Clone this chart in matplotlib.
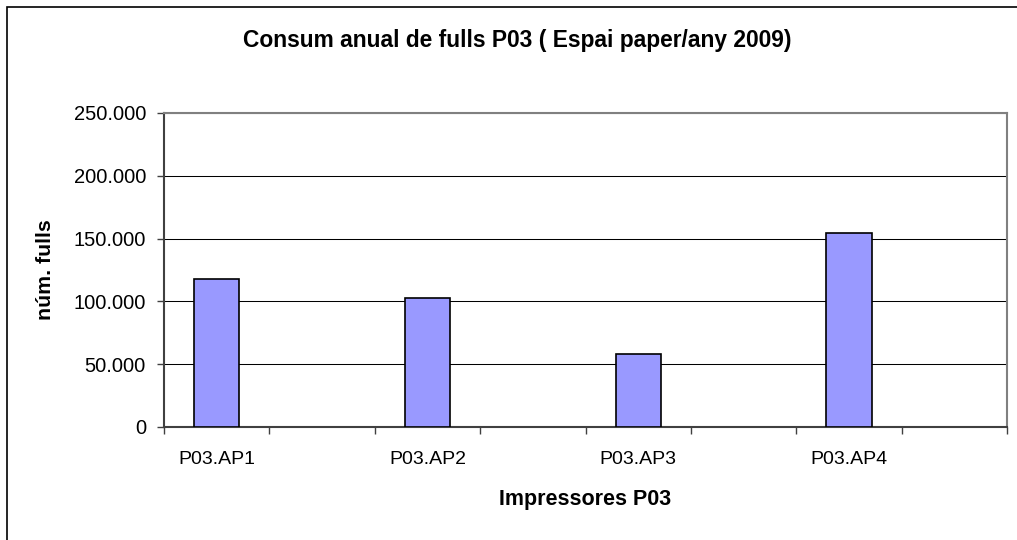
import matplotlib
matplotlib.use('Agg')
import matplotlib.pyplot as plt
from matplotlib.patches import Rectangle
from matplotlib.ticker import FuncFormatter, MultipleLocator

plt.rcParams['font.family'] = ['Liberation Sans', 'DejaVu Sans']

# dades (llegides del gràfic)
impressores = ['P03.AP1', 'P03.AP2', 'P03.AP3', 'P03.AP4']
fulls = [118000, 102500, 58400, 154500]

fig = plt.figure(figsize=(10.17, 5.4), dpi=100)
fig.patch.set_facecolor('white')

# marc exterior del gràfic
fig.patches.append(Rectangle((7 / 1017, -0.05), 1.1, 1 - 7 / 540 + 0.05,
                             transform=fig.transFigure, fill=False,
                             edgecolor='black', linewidth=1.2))

ax = fig.add_axes([164 / 1017, 1 - 427 / 540, 843 / 1017, 314 / 540])

# cada impressora ocupa una casella de cada dues (eix de 8 categories)
pos = [2 * i for i in range(len(impressores))]
ax.bar(pos, fulls, width=0.43, color='#9999FF', edgecolor='black',
       linewidth=1.2, zorder=3)

ax.set_xlim(-0.5, 7.5)
ax.set_ylim(0, 250000)
ax.yaxis.set_major_locator(MultipleLocator(50000))
ax.yaxis.set_major_formatter(
    FuncFormatter(lambda v, p: f'{v:,.0f}'.replace(',', '.')))
ax.grid(axis='y', color='black', linewidth=0.75, zorder=0)

ax.set_xticks(pos)
ax.set_xticklabels(impressores)
ax.set_xticks([i + 0.5 for i in range(-1, 8)], minor=True)
ax.tick_params(axis='x', which='major', length=0, pad=17.5, labelsize=14)
ax.tick_params(axis='x', which='minor', length=5, width=1, color='#404040')
ax.tick_params(axis='y', length=5, width=1, color='#404040', pad=8, labelsize=14.5)

for s in ['left', 'bottom']:
    ax.spines[s].set_color('#404040')
    ax.spines[s].set_linewidth(1.5)
for s in ['top', 'right']:
    ax.spines[s].set_color('#808080')
    ax.spines[s].set_linewidth(1.5)

ax.set_title('Consum anual de fulls P03 ( Espai paper/any 2009)',
             fontsize=16.4, fontweight='bold', x=(517 - 164) / 843,
             y=(427 - 47) / 314, va='baseline', pad=0)
ax.set_xlabel('Impressores P03', fontsize=15.5, fontweight='bold')
ax.xaxis.set_label_coords(0.5, (427 - 505) / 314)
ax.xaxis.label.set_va('baseline')
ax.set_ylabel('núm. fulls', fontsize=15.3, fontweight='bold')
ax.yaxis.set_label_coords((45 - 164) / 843, 0.5)
ax.yaxis.label.set_va('center')

fig.savefig('out.png', dpi=100)
